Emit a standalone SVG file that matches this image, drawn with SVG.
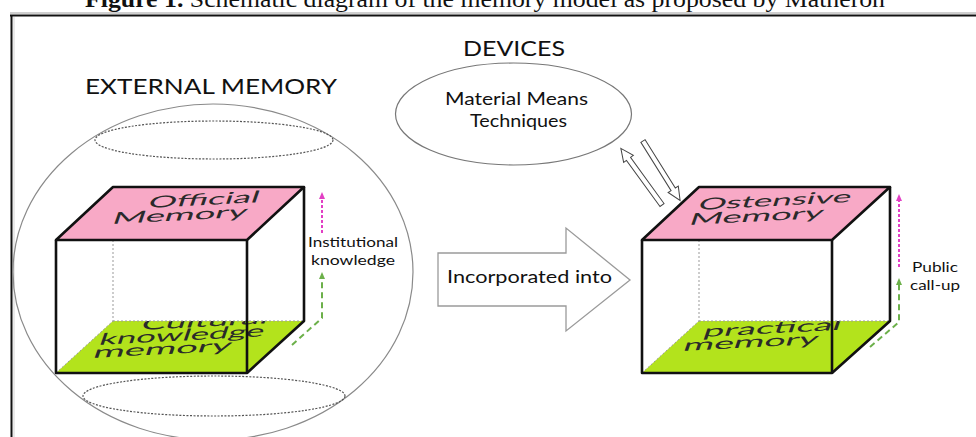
<svg xmlns="http://www.w3.org/2000/svg" width="976" height="437" viewBox="0 0 976 437">
  <style>
    .sans { font-family: "Lato", "Open Sans", "Liberation Sans", sans-serif; fill: #111; }
    .face-label { font-family: "Lato", "Open Sans", "Liberation Sans", sans-serif; fill: #2a2a2a; font-size: 16px; }
    .sphere { fill: none; stroke: #8a8a8a; stroke-width: 1.2; }
    .ring { fill: none; stroke: #555; stroke-width: 1.2; stroke-dasharray: 2 1.5; }
    .edge { fill: none; stroke: #111; stroke-width: 2.6; stroke-linejoin: round; }
    .hidden { fill: none; stroke: #999; stroke-width: 1; stroke-dasharray: 2 2; }
    .top-face { fill: #f8a9c6; stroke: #111; stroke-width: 2.6; stroke-linejoin: round; }
    .bottom-face { fill: #b3e31c; }
    .flow-up { fill: none; stroke: #e23fc4; stroke-width: 2; stroke-dasharray: 3 2; }
    .flow-base { fill: none; stroke: #6cb04a; stroke-width: 2; stroke-dasharray: 6 4; }
    .hollow { fill: #fff; stroke: #444; stroke-width: 1; }
    .big-arrow { fill: #fff; stroke: #9a9a9a; stroke-width: 1.3; }
  </style>
  <defs>
    <path id="hollow-arrow" class="hollow" d="M0,-2.5 L57,-2.5 L57,-6 L70,0 L57,6 L57,2.5 L0,2.5 Z"/>
    <clipPath id="clip-left-base"><polygon points="56,373 247,373 304,321 113,321"/></clipPath>
    <clipPath id="clip-right-base"><polygon points="642,373 832,373 890,321 699,321"/></clipPath>
  </defs>

  <rect width="976" height="437" fill="#fff"/>

  <!-- caption, running off the top edge -->
  <text x="85" y="7" font-family="'Liberation Serif', 'DejaVu Serif', serif" font-size="24" fill="#111" textLength="800" lengthAdjust="spacingAndGlyphs"><tspan font-weight="bold">Figure 1.</tspan> Schematic diagram of the memory model as proposed by Matheron</text>

  <!-- frame -->
  <g id="frame">
    <line x1="10" y1="13" x2="976" y2="13" stroke="#cfcfcf" stroke-width="2"/>
    <line x1="10" y1="15.5" x2="976" y2="15.5" stroke="#111" stroke-width="2"/>
    <line x1="11.5" y1="15" x2="11.5" y2="437" stroke="#111" stroke-width="2"/>
    <line x1="14" y1="17" x2="14" y2="437" stroke="#d5d5d5" stroke-width="1"/>
  </g>

  <!-- external memory sphere -->
  <g id="external-memory">
    <text class="sans" x="85" y="94" font-size="22" textLength="252" lengthAdjust="spacingAndGlyphs">EXTERNAL MEMORY</text>
    <ellipse class="sphere" cx="213" cy="272" rx="200" ry="168"/>
    <ellipse class="ring" cx="214" cy="140" rx="119" ry="19"/>
    <ellipse class="ring" cx="214" cy="396" rx="131" ry="20"/>
  </g>

  <!-- left cube: official / cultural memory -->
  <g id="official-cube">
    <polygon class="bottom-face" points="56,373 247,373 304,321 113,321"/>
    <g clip-path="url(#clip-left-base)">
      <text class="face-label" transform="translate(140,330) rotate(-3) skewX(-22)" textLength="127" lengthAdjust="spacingAndGlyphs">Cultural</text>
      <text class="face-label" transform="translate(98,345) rotate(-3) skewX(-22)" textLength="165" lengthAdjust="spacingAndGlyphs">knowledge</text>
      <text class="face-label" transform="translate(92,358) rotate(-3) skewX(-22)" textLength="138" lengthAdjust="spacingAndGlyphs">memory</text>
    </g>
    <line class="hidden" x1="113" y1="240" x2="113" y2="321"/>
    <line class="hidden" x1="113" y1="321" x2="304" y2="321"/>
    <line class="hidden" x1="56" y1="373" x2="113" y2="321"/>
    <polyline class="edge" points="56,240 56,373 247,373 247,240"/>
    <polyline class="edge" points="247,373 304,321 304,187"/>
    <polygon class="top-face" points="113,187 304,187 247,240 56,240"/>
    <text class="face-label" transform="translate(147,208) rotate(-3) skewX(-22)" textLength="111" lengthAdjust="spacingAndGlyphs">Official</text>
    <text class="face-label" transform="translate(111,224) rotate(-3) skewX(-22)" textLength="135" lengthAdjust="spacingAndGlyphs">Memory</text>
  </g>

  <!-- right cube: ostensive / practical memory -->
  <g id="ostensive-cube">
    <polygon class="bottom-face" points="642,373 832,373 890,321 699,321"/>
    <g clip-path="url(#clip-right-base)">
      <text class="face-label" transform="translate(702,337) rotate(-3) skewX(-22)" textLength="138" lengthAdjust="spacingAndGlyphs">practical</text>
      <text class="face-label" transform="translate(682,351) rotate(-3) skewX(-22)" textLength="135" lengthAdjust="spacingAndGlyphs">memory</text>
    </g>
    <line class="hidden" x1="699" y1="240" x2="699" y2="321"/>
    <line class="hidden" x1="699" y1="321" x2="890" y2="321"/>
    <line class="hidden" x1="642" y1="373" x2="699" y2="321"/>
    <polyline class="edge" points="642,240 642,373 832,373 832,240"/>
    <polyline class="edge" points="832,373 890,321 890,187"/>
    <polygon class="top-face" points="699,187 890,187 832,240 642,240"/>
    <text class="face-label" transform="translate(697,210) rotate(-3) skewX(-22)" textLength="153" lengthAdjust="spacingAndGlyphs">Ostensive</text>
    <text class="face-label" transform="translate(688,225) rotate(-3) skewX(-22)" textLength="134" lengthAdjust="spacingAndGlyphs">Memory</text>
  </g>

  <!-- devices -->
  <g id="devices">
    <text class="sans" x="463" y="56" font-size="22" textLength="102" lengthAdjust="spacingAndGlyphs">DEVICES</text>
    <ellipse cx="513.5" cy="114" rx="118" ry="51" fill="none" stroke="#777" stroke-width="1.2"/>
    <text class="sans" x="445" y="105" font-size="17" textLength="143" lengthAdjust="spacingAndGlyphs">Material Means</text>
    <text class="sans" x="470" y="127" font-size="17" textLength="97" lengthAdjust="spacingAndGlyphs">Techniques</text>
  </g>

  <!-- side labels -->
  <g id="institutional-label">
    <text class="sans" x="308" y="247" font-size="14" textLength="90" lengthAdjust="spacingAndGlyphs">Institutional</text>
    <text class="sans" x="311" y="265" font-size="14" textLength="84" lengthAdjust="spacingAndGlyphs">knowledge</text>
  </g>
  <g id="public-label">
    <text class="sans" x="912" y="272" font-size="14" textLength="46" lengthAdjust="spacingAndGlyphs">Public</text>
    <text class="sans" x="910" y="290" font-size="14" textLength="50" lengthAdjust="spacingAndGlyphs">call-up</text>
  </g>

  <!-- connectors -->
  <g id="connectors">
    <!-- incorporated into -->
    <polygon class="big-arrow" points="438,253 566,253 566,228 630,280 566,331 566,306 438,306"/>
    <text class="sans" x="447" y="283" font-size="18" textLength="165" lengthAdjust="spacingAndGlyphs">Incorporated into</text>

    <!-- exchange between devices and ostensive memory -->
    <use href="#hollow-arrow" transform="translate(662,205) rotate(234)"/>
    <use href="#hollow-arrow" transform="translate(643,141) rotate(58)"/>

    <!-- left cube flows -->
    <line class="flow-up" x1="322" y1="233" x2="322" y2="197"/>
    <polygon points="322,192 319,199 325,199" fill="#e23fc4"/>
    <polyline class="flow-base" points="292,345 322,318 322,278"/>
    <polygon points="322,272 319,279 325,279" fill="#6cb04a"/>

    <!-- right cube flows -->
    <line class="flow-up" x1="899" y1="267" x2="899" y2="199"/>
    <polygon points="899,194 896,201 902,201" fill="#e23fc4"/>
    <polyline class="flow-base" points="870,347 899,322 899,283"/>
    <polygon points="899,278 896,285 902,285" fill="#6cb04a"/>
  </g>
</svg>
